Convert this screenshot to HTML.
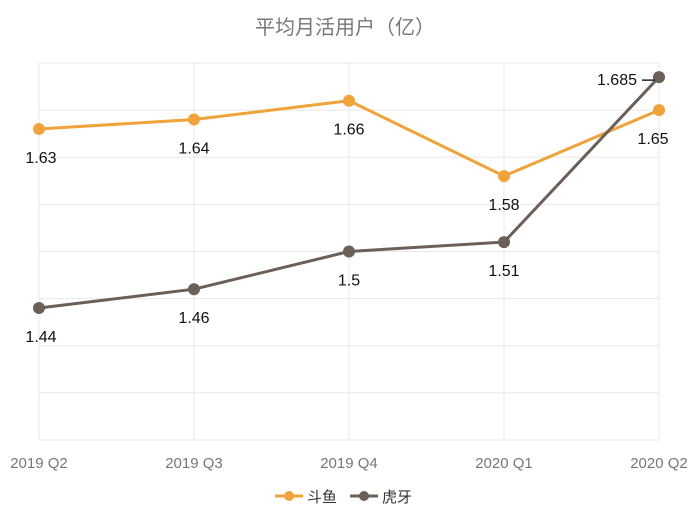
<!DOCTYPE html>
<html><head><meta charset="utf-8"><style>
body{margin:0;background:#fff;}
svg text{font-family:"Liberation Sans","Noto Sans CJK SC",sans-serif;}
</style></head><body>
<svg width="700" height="524" viewBox="0 0 700 524">
<text x="345" y="34" text-anchor="middle" font-size="20" fill="#777">平均月活用户（亿）</text>
<g id="grid"></g><g id="xlabels"></g><g id="series"></g>
<g>
 <g><line x1="275" y1="496" x2="303" y2="496" stroke="#f0a33a" stroke-width="3"/><circle cx="289" cy="496" r="5" fill="#f0a33a"/><text x="307" y="502" font-size="15" fill="#333">斗鱼</text></g>
 <g><line x1="350" y1="496" x2="378" y2="496" stroke="#6b5f57" stroke-width="3"/><circle cx="364" cy="496" r="5" fill="#6b5f57"/><text x="382" y="502" font-size="15" fill="#333">虎牙</text></g>
</g>
</svg>
<script>
const categories=["2019 Q2","2019 Q3","2019 Q4","2020 Q1","2020 Q2"];
const douyu=[1.63,1.64,1.66,1.58,1.65];
const huya=[1.44,1.46,1.5,1.51,1.685];
const yMin=1.3,yMax=1.7,yStep=0.05;
const L=39,R=659,T=63,B=440;
const NS="http://www.w3.org/2000/svg";
const xs=i=>L+(R-L)*i/(categories.length-1);
const ys=v=>B-(v-yMin)/(yMax-yMin)*(B-T);
function mk(t,a,p){const e=document.createElementNS(NS,t);for(const k in a)e.setAttribute(k,a[k]);p.appendChild(e);return e;}
const grid=document.getElementById('grid');
for(let v=yMin;v<=yMax+1e-9;v+=yStep){const l=mk('line',{x1:L,x2:R,y1:ys(v),y2:ys(v),stroke:'#e8e8e8'},grid);

}
const xl=document.getElementById('xlabels');
categories.forEach((c,i)=>{const l=mk('line',{x1:xs(i),x2:xs(i),y1:T,y2:B,stroke:'#e8e8e8'},grid);


const t=mk('text',{x:xs(i),y:468,'text-anchor':'middle','font-size':15,fill:'#777'},xl);t.textContent=c;

});
const sg=document.getElementById('series');
function draw(vals,color,name){
 const g=mk('g',{},sg);
 
 
 mk('polyline',{points:vals.map((v,i)=>xs(i)+','+ys(v)).join(' '),fill:'none',stroke:color,'stroke-width':3},g);
 vals.forEach((v,i)=>{const c=mk('circle',{cx:xs(i),cy:ys(v),r:6,fill:color},g);
 
 
 let x=xs(i),y=ys(v)+34,anchor='middle';
 if(i===0)x+=2;if(i===categories.length-1)x-=6;
 if(name==='huya'&&i===categories.length-1){x=xs(i)-22;y=ys(v)+8;anchor='end';
  mk('line',{x1:xs(i)-17,x2:xs(i)-4,y1:ys(v)+3,y2:ys(v)+3,stroke:'#222','stroke-width':1.5},g);}
 const t=mk('text',{x:x,y:y,'text-anchor':anchor,'font-size':16,fill:'#111'},g);t.textContent=String(v);
 
 });
}
draw(douyu,'#f0a33a','douyu');
draw(huya,'#6b5f57','huya');
</script>
</body></html>
